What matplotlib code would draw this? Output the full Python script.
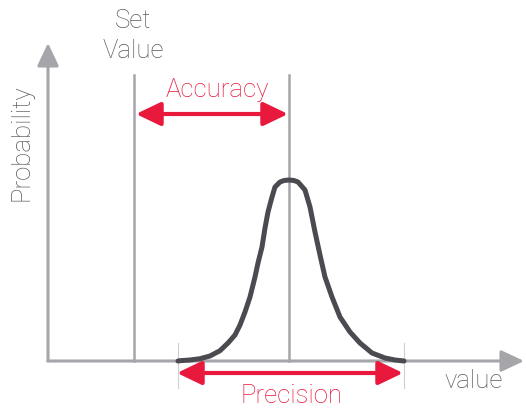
import matplotlib.pyplot as plt
from matplotlib.patches import FancyArrowPatch

# curve: value (x) and probability height above the axis
curve_x = [178, 180, 190, 200, 210, 220, 228, 235, 240, 245, 250, 255, 258, 262,
           265, 268, 272, 275, 280, 284, 289, 294, 298, 305, 310, 315, 320, 325,
           332, 340, 350, 360, 372, 385, 395, 404]
curve_y = [0, 0.3, 1, 2.3, 5, 10.3, 18, 26, 36, 49, 64, 84, 98, 114,
           133, 149, 164, 174, 179, 180.5, 181, 180.5, 179, 171, 154, 129, 106, 84,
           64, 44, 29, 18, 8, 3, 1, 0]

origin = (48, 0)
x_axis_end = 524
y_axis_end = 318
set_value = 134
mean_value = 289
guide_top = 286
precision_lo, precision_hi = 178, 404
accuracy_h = 247
precision_h = -12

gray = "#a6a5aa"
text_gray = "#5a595e"
red = "#e8193c"
curve_col = "#4b4a50"

plt.rcParams['font.family'] = ['Roboto', 'DejaVu Sans']

fig = plt.figure(figsize=(5.26, 4.08), dpi=100)
ax = fig.add_axes([0, 0, 1, 1])
ax.set_xlim(0, 526)
ax.set_ylim(-47, 361)
ax.axis("off")

# axes with arrow heads
for tip in [(x_axis_end, 0), (origin[0], y_axis_end)]:
    ax.add_patch(FancyArrowPatch(origin, tip, arrowstyle="-|>,head_length=0.7,head_width=0.33",
                                 mutation_scale=20, color=gray, lw=2.2, shrinkA=0, shrinkB=0))

# set value and mean guides
for xv in [set_value, mean_value]:
    ax.plot([xv, xv], [0, guide_top], color=gray, lw=1.8, zorder=1)

# precision limits
for xv in [precision_lo, precision_hi]:
    ax.plot([xv, xv], [-27, 18], color="#cfcfd3", lw=0.8, zorder=1)

ax.plot(curve_x, curve_y, color=curve_col, lw=3.6, solid_capstyle="round",
        solid_joinstyle="round", zorder=3)

# red arrows
ax.add_patch(FancyArrowPatch((set_value + 2, accuracy_h), (mean_value - 1, accuracy_h),
                             arrowstyle="<|-|>,head_length=0.75,head_width=0.36",
                             mutation_scale=20, color=red, lw=3, shrinkA=0, shrinkB=0, zorder=4))
ax.add_patch(FancyArrowPatch((precision_lo - 1, precision_h), (precision_hi - 1, precision_h),
                             arrowstyle="<|-|>,head_length=0.75,head_width=0.36",
                             mutation_scale=20, color=red, lw=3, shrinkA=0, shrinkB=0, zorder=4))

fs = 18.5
fw = "light"
ax.text(133, 325, "Set\nValue", ha="center", va="center", fontsize=fs, color=text_gray,
        fontweight=fw, linespacing=1.3)
ax.text(217, 271, "Accuracy", ha="center", va="center", fontsize=fs, color=red, fontweight=fw)
ax.text(291, -35, "Precision", ha="center", va="center", fontsize=fs, color=red, fontweight=fw)
ax.text(474, -20, "value", ha="center", va="center", fontsize=fs, color=text_gray, fontweight=fw)
ax.text(22, 218, "Probability", ha="center", va="center", rotation=90, fontsize=fs,
        color=text_gray, fontweight=fw)

fig.savefig("out.png", dpi=100)
